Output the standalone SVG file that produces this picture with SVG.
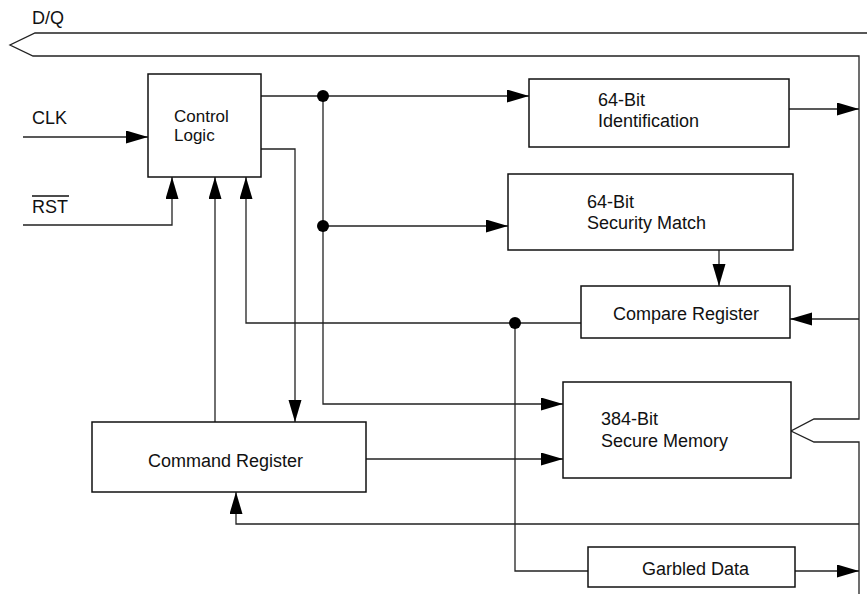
<svg xmlns="http://www.w3.org/2000/svg" width="867" height="594" viewBox="0 0 867 594">
<style>
.box{fill:#fff;stroke:#111;stroke-width:1.5}
.w{fill:none;stroke:#222;stroke-width:1.3}
.t{font-family:"Liberation Sans",Arial,sans-serif;font-size:18px;fill:#111}
.s{font-size:17px}
.dot{fill:#000}
</style>
<defs>
<marker id="a" markerUnits="userSpaceOnUse" markerWidth="23" markerHeight="14" refX="22" refY="6.5" orient="auto">
<path d="M0,0 L22,6.5 L0,13 z" fill="#000"/>
</marker>
</defs>
<g id="connectors">
<polyline class="w" points="867,33 35,33 10,45 33,56 859,56 859,419 814,419 791,431 814,442 859,442 859,594"/>
<line class="w" x1="23" y1="137" x2="148" y2="137" marker-end="url(#a)"/>
<polyline class="w" points="23,225 172,225 172,177" marker-end="url(#a)"/>
<line class="w" x1="261" y1="96" x2="529" y2="96" marker-end="url(#a)"/>
<polyline class="w" points="323,96 323,404 563,404" marker-end="url(#a)"/>
<line class="w" x1="323" y1="226" x2="508" y2="226" marker-end="url(#a)"/>
<polyline class="w" points="261,149 295,149 295,422" marker-end="url(#a)"/>
<line class="w" x1="215" y1="422" x2="215" y2="177" marker-end="url(#a)"/>
<polyline class="w" points="581,323 246,323 246,177" marker-end="url(#a)"/>
<polyline class="w" points="515,323 515,571 588,571"/>
<line class="w" x1="795" y1="571" x2="859" y2="571" marker-end="url(#a)"/>
<line class="w" x1="789" y1="109" x2="859" y2="109" marker-end="url(#a)"/>
<line class="w" x1="719" y1="250" x2="719" y2="286" marker-end="url(#a)"/>
<line class="w" x1="859" y1="319" x2="790" y2="319" marker-end="url(#a)"/>
<line class="w" x1="366" y1="459" x2="563" y2="459" marker-end="url(#a)"/>
<polyline class="w" points="859,524 236,524 236,492" marker-end="url(#a)"/>
<circle class="dot" cx="323" cy="96" r="6"/>
<circle class="dot" cx="323" cy="226" r="6"/>
<circle class="dot" cx="515" cy="323" r="6"/>
</g>
<g id="labels">
<text class="t" x="32" y="24">D/Q</text>
<text class="t" x="32" y="124">CLK</text>
<text class="t" x="32" y="213">RST</text>
<line x1="32" y1="196" x2="69" y2="196" stroke="#111" stroke-width="1.3"/>
</g>
<g id="control-logic">
<rect class="box" x="148" y="74" width="113" height="103"/>
<text class="t s" x="174" y="122">Control</text>
<text class="t s" x="174" y="141">Logic</text>
</g>
<g id="id-64">
<rect class="box" x="529" y="79" width="260" height="68"/>
<text class="t" x="598" y="106">64-Bit</text>
<text class="t" x="598" y="127">Identification</text>
</g>
<g id="security-match">
<rect class="box" x="508" y="174" width="285" height="76"/>
<text class="t" x="587" y="208">64-Bit</text>
<text class="t" x="587" y="229">Security Match</text>
</g>
<g id="compare-register">
<rect class="box" x="581" y="286" width="209" height="52"/>
<text class="t" x="613" y="320">Compare Register</text>
</g>
<g id="secure-memory">
<rect class="box" x="563" y="382" width="228" height="96"/>
<text class="t" x="601" y="425">384-Bit</text>
<text class="t" x="601" y="447">Secure Memory</text>
</g>
<g id="command-register">
<rect class="box" x="92" y="422" width="274" height="70"/>
<text class="t" x="148" y="467">Command Register</text>
</g>
<g id="garbled-data">
<rect class="box" x="588" y="547" width="207" height="40"/>
<text class="t" x="642" y="575">Garbled Data</text>
</g>
</svg>
